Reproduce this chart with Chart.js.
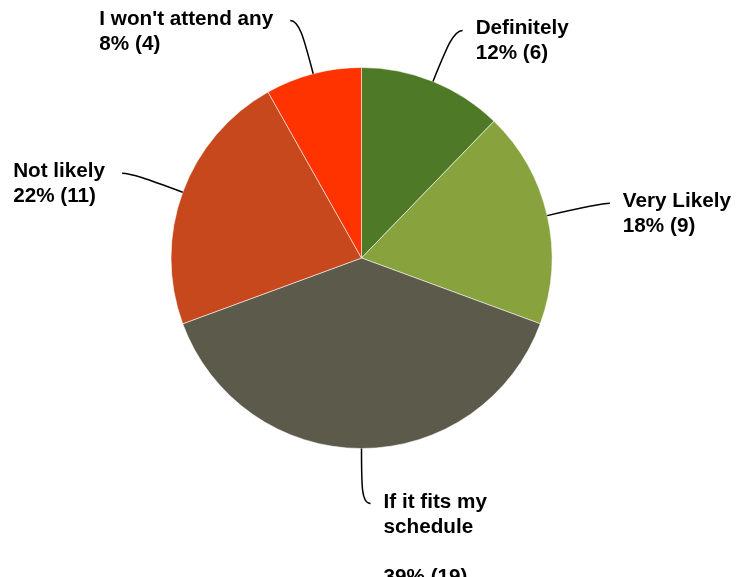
<!DOCTYPE html>
<html>
<head>
<meta charset="utf-8">
<script src="https://cdn.jsdelivr.net/npm/chart.js@4"></script>
<style>
  html, body { margin: 0; padding: 0; background: #fff; }
  #wrap { width: 736px; height: 577px; }
</style>
</head>
<body>
<div id="wrap"><canvas id="pieChart" width="736" height="577"></canvas></div>
<script>
// survey answers, clockwise from the top
const categories = ['Definitely', 'Very Likely', ['If it fits my', 'schedule', ''], 'Not likely', "I won't attend any"];
const counts = [6, 9, 19, 11, 4];
const sliceColors = ['#4e7a28', '#88a33e', '#5c5a4b', '#c8481d', '#ff3300'];

const total = counts.reduce((a, b) => a + b, 0);

// outside labels with curved leader lines
const calloutLabels = {
  id: 'calloutLabels',
  afterDatasetsDraw(chart) {
    const ctx = chart.ctx;
    const arcs = chart.getDatasetMeta(0).data;
    const lineH = 25;
    ctx.save();
    ctx.font = 'bold 20.7px "Liberation Sans", Arial, sans-serif';
    ctx.fillStyle = '#000';
    ctx.strokeStyle = '#000';
    ctx.lineWidth = 1.5;
    arcs.forEach((arc, i) => {
      const p = arc.getProps(['x', 'y', 'startAngle', 'endAngle', 'outerRadius'], true);
      const mid = (p.startAngle + p.endAngle) / 2;
      const cx = Math.cos(mid), cy = Math.sin(mid);
      const side = cx >= -1e-6 ? 1 : -1;
      const sx = p.x + p.outerRadius * cx, sy = p.y + p.outerRadius * cy;
      const ext = p.outerRadius + 55;
      const ex = p.x + ext * cx, ey = p.y + ext * cy;
      const tx = ex + side * 9;

      ctx.beginPath();
      ctx.moveTo(sx, sy);
      ctx.bezierCurveTo(sx + cx * 38, sy + cy * 38, ex, ey, tx, ey);
      ctx.stroke();

      const name = categories[i];
      const lines = (Array.isArray(name) ? name.slice() : [name]);
      lines.push(Math.round(counts[i] / total * 100) + '% (' + counts[i] + ')');
      const w = Math.max(...lines.map(l => ctx.measureText(l).width));
      const left = side > 0 ? tx + 13 : tx - 17 - w;
      ctx.textAlign = 'left';
      ctx.textBaseline = 'alphabetic';
      lines.forEach((l, k) => ctx.fillText(l, left, ey + 4 + k * lineH));
    });
    ctx.restore();
  }
};

const ctx = document.getElementById('pieChart').getContext('2d');
new Chart(ctx, {
  type: 'pie',
  data: {
    labels: categories,
    datasets: [{
      data: counts,
      backgroundColor: sliceColors,
      borderColor: 'rgba(255,255,255,0.55)',
      borderWidth: 1
    }]
  },
  options: {
    responsive: false,
    animation: false,
    layout: { padding: { left: 170, right: 183, top: 67, bottom: 128 } },
    plugins: {
      legend: { display: false },
      tooltip: { enabled: false }
    }
  },
  plugins: [calloutLabels]
});
</script>
</body>
</html>
